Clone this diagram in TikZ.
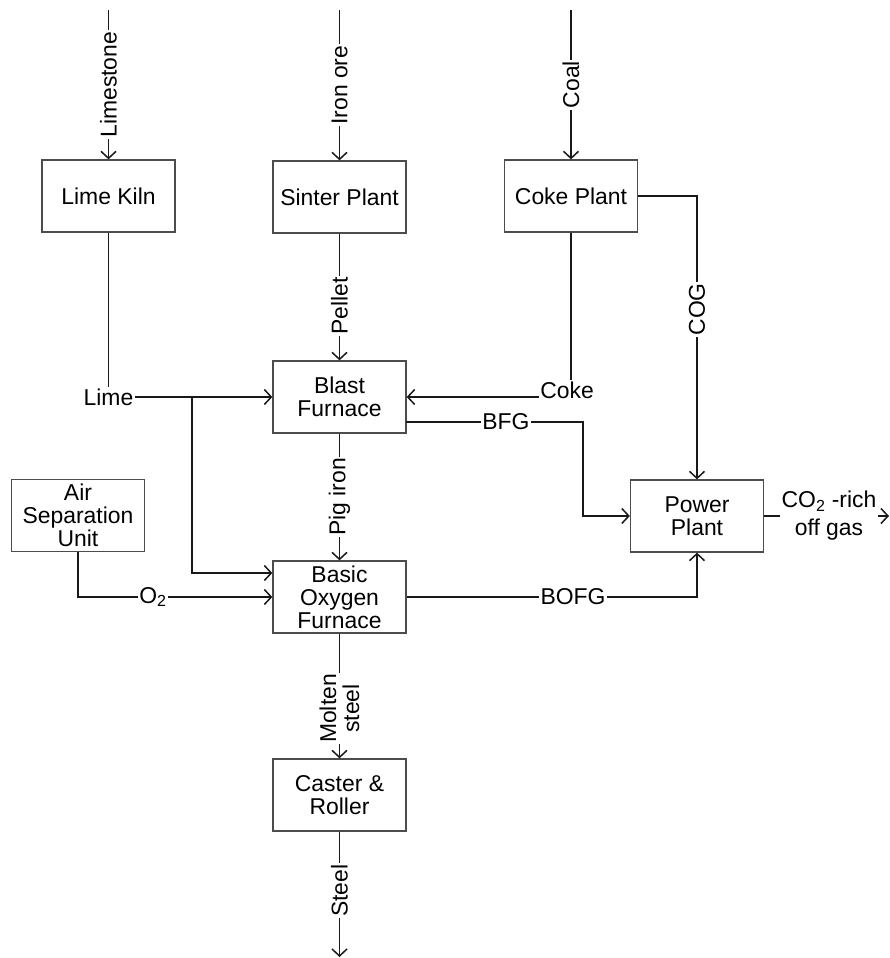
\documentclass[tikz,border=0pt]{standalone}
\usepackage{fontspec}
\setmainfont{Liberation Sans}
\usetikzlibrary{arrows.meta}
\begin{document}
\begin{tikzpicture}[x=1bp,y=-1bp,
  font=\fontsize{23}{23}\selectfont,
  unit/.style={draw=black!70,line width=1.3bp,minimum width=133bp,minimum height=72bp,inner sep=0pt,align=center},
  flow/.style={line width=1.6bp,draw=black!90},
  arr/.style={flow,-{Straight Barb[length=7bp,width=15bp,line width=1.5bp]}},
  lbl/.style={fill=white,inner sep=1.5bp,align=center},
  vlbl/.style={lbl,rotate=90}]
\useasboundingbox (0,0) rectangle (890,958);
% units
\node[unit] (kiln) at (108.5,196) {Lime Kiln};
\node[unit] (sinter) at (339.5,197) {Sinter Plant};
\node[unit] (coke) at (571,196) {Coke Plant};
\node[unit] (bf) at (339.5,397) {Blast\\Furnace};
\node[unit] (asu) at (78,515.5) {Air\\Separation\\Unit};
\node[unit] (bof) at (339.5,597) {Basic\\Oxygen\\Furnace};
\node[unit] (pp) at (697,516) {Power\\Plant};
\node[unit] (cr) at (339.5,795) {Caster \&\\Roller};
% free ends
\coordinate (ls0) at (108.5,10);
\coordinate (io0) at (339.5,10);
\coordinate (co0) at (571,10);
\coordinate (st1) at (339.5,957);
\coordinate (ex1) at (889,516);
\coordinate (lb1) at (192,397);
\coordinate (lb2) at (192,573);
\coordinate (bfg1) at (406,422);
\coordinate (bfg2) at (583,422);
% inputs
\draw[arr] (ls0) -- node[vlbl,pos=0.5] {Limestone} (kiln.north);
\draw[arr] (io0) -- node[vlbl,pos=0.5] {Iron ore} (sinter.north);
\draw[arr] (co0) -- node[vlbl,pos=0.5] {Coal} (coke.north);
% lime
\draw[arr] (kiln.south) |- (bf.west);
\node[lbl] (lime) at (108.5,397) {Lime};
\draw[arr] (lb1) -- (lb2) -- (lb2 -| bof.west);
% pellet
\draw[arr] (sinter.south) -- node[vlbl,pos=0.57] {Pellet} (bf.north);
% coke
\draw[arr] (coke.south) |- (bf.east);
\node[lbl] (cokelbl) at (567,390) {Coke};
% COG
\draw[arr] (coke.east) -| node[vlbl,pos=0.7] {COG} (pp.north);
% BFG
\draw[arr] (bfg1) -- (bfg2) |- (pp.west);
\node[lbl] (bfglbl) at (506,422) {BFG};
% O2
\draw[arr] (asu.south) |- (bof.west);
\node[lbl] (o2) at (153,597) {O\textsubscript{2}};
% pig iron
\draw[arr] (bf.south) -- node[vlbl,pos=0.5] {Pig iron} (bof.north);
% BOFG
\draw[arr] (bof.east) -| (pp.south);
\node[lbl] (bofg) at (573,597) {BOFG};
% molten steel
\draw[arr] (bof.south) -- node[vlbl,pos=0.6] {Molten\\steel} (cr.north);
% steel
\draw[arr] (cr.south) -- node[vlbl,pos=0.47] {Steel} (st1);
% CO2 off gas
\draw[arr] (pp.east) -- (ex1);
\node[lbl] (offgas) at (829,516) {CO\textsubscript{2} -rich\\[5bp]off gas};
\end{tikzpicture}
\end{document}
